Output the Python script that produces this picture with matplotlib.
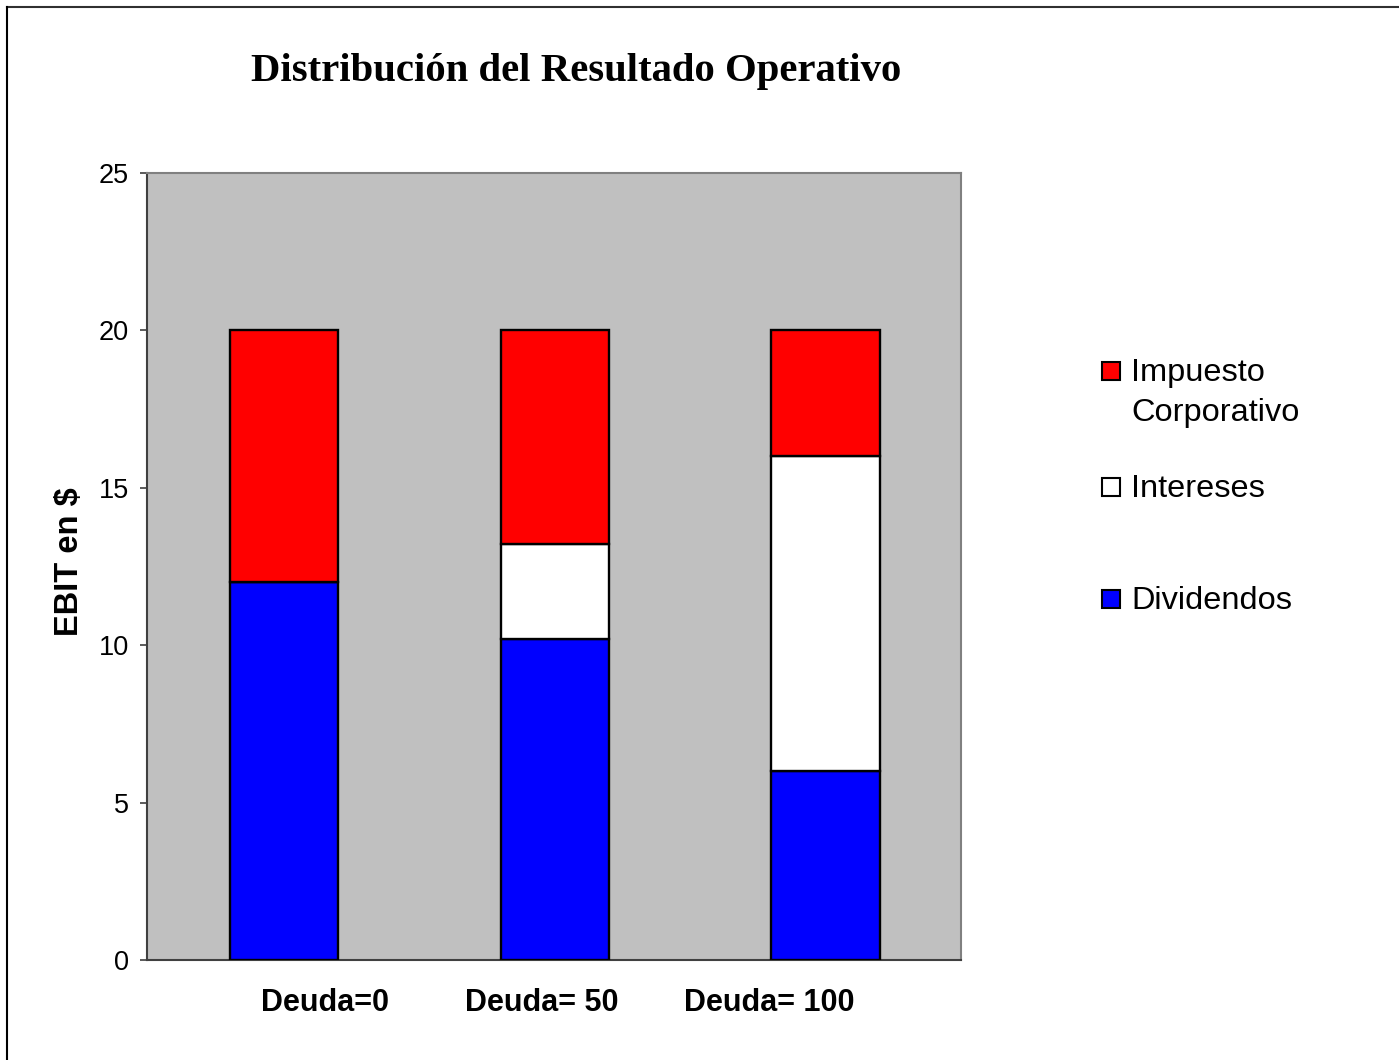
import numpy as np
import matplotlib.pyplot as plt
import matplotlib.transforms as mtransforms
from matplotlib.patches import Rectangle
from matplotlib.lines import Line2D

# Datos del gráfico
categorias = ['Deuda=0', 'Deuda= 50', 'Deuda= 100']
dividendos = [12.0, 10.2, 6.0]
intereses = [0.0, 3.0, 10.0]
impuesto = [8.0, 6.8, 4.0]
series_nombres = ['Impuesto\nCorporativo', 'Intereses', 'Dividendos']
series_colores = ['#FF0000', '#FFFFFF', '#0000FF']

W, H = 1399, 1060
fig = plt.figure(figsize=(W / 100, H / 100), dpi=100)
fig.patch.set_facecolor('white')

ax = fig.add_axes([147 / W, 1 - 960 / H, (961 - 147) / W, (960 - 173) / H])
ax.set_facecolor('#C0C0C0')

x = np.arange(len(categorias))
ancho = 0.40
ax.bar(x, dividendos, ancho, color='#0000FF', edgecolor='black', linewidth=1.7, zorder=3)
ax.bar(x, intereses, ancho, bottom=dividendos, color='#FFFFFF', edgecolor='black',
       linewidth=1.7, zorder=3)
base = np.array(dividendos) + np.array(intereses)
ax.bar(x, impuesto, ancho, bottom=base, color='#FF0000', edgecolor='black', linewidth=1.7, zorder=3)

ax.set_xlim(-0.505, 2.5)
ax.set_ylim(0, 25)
ax.set_yticks([0, 5, 10, 15, 20, 25])
ax.tick_params(axis='y', direction='out', length=5, width=1.2, color='#404040', pad=8,
               labelsize=19.5, labelfontfamily='Liberation Sans')
ax.tick_params(axis='x', length=0, pad=20)
ax.set_xticks(x)
ax.set_xticklabels(categorias, fontsize=22, fontweight='bold', family='Liberation Sans')

# Excel desplaza las etiquetas de categoría
desplazamientos = [41, -13, -56]
for lab, dx in zip(ax.get_xticklabels(), desplazamientos):
    lab.set_transform(lab.get_transform() + mtransforms.ScaledTranslation(dx / 100, 0, fig.dpi_scale_trans))

for s in ['top', 'right']:
    ax.spines[s].set_color('#808080')
    ax.spines[s].set_linewidth(1.5)
for s in ['left', 'bottom']:
    ax.spines[s].set_color('#404040')
    ax.spines[s].set_linewidth(1.5)

ax.set_ylabel('EBIT en $', fontsize=23.5, fontweight='bold', family='Liberation Sans')
ax.yaxis.set_label_coords((85 - 147) / 814, (960 - 562) / 787)

fig.text(576 / W, 1 - 71 / H, 'Distribución del Resultado Operativo', ha='center', va='center',
         fontsize=29.3, fontweight='bold', family='Liberation Serif')

# Leyenda manual
leyenda_y = [371, 487, 599]
for nombre, color, yy in zip(series_nombres, series_colores, leyenda_y):
    fig.patches.append(Rectangle((1102 / W, 1 - (yy + 9) / H), 18 / W, 18 / H, facecolor=color,
                                 edgecolor='black', linewidth=1.5, transform=fig.transFigure))
    fig.text(1131 / W, 1 - (yy - 13) / H, nombre, ha='left', va='top', fontsize=23.4,
             family='Liberation Sans', linespacing=1.42)

# Borde del gráfico
fig.add_artist(Line2D([7 / W, 1], [1 - 7 / H, 1 - 7 / H], color='#303030', lw=1.5, transform=fig.transFigure))
fig.add_artist(Line2D([7 / W, 7 / W], [0, 1 - 7 / H], color='black', lw=1.5, transform=fig.transFigure))

fig.savefig('out.png', dpi=100)
